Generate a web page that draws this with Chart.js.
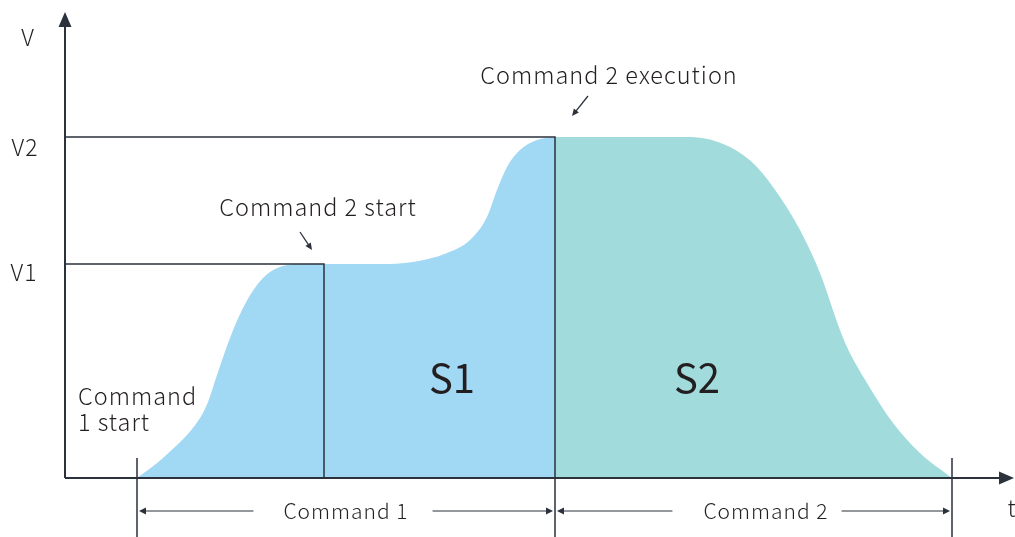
<!DOCTYPE html>
<html>
<head>
<meta charset="utf-8">
<script src="https://cdn.jsdelivr.net/npm/chart.js@4"></script>
<style>
  html, body { margin: 0; padding: 0; background: #fff; }
  #wrap { width: 1015px; height: 537px; position: relative; }
</style>
</head>
<body>
<div id="wrap"><canvas id="motionChart"></canvas></div>
<script>
// key times (arbitrary time units) and speed levels
const t1Start = 0.72;   // command 1 start
const t2Start = 2.59;   // command 2 start
const t2Exec = 4.90;    // command 2 execution
const t2End = 8.87;     // command 2 end
const V1 = 2.14;
const V2 = 3.41;

// speed profile while command 1 runs (S1)
const tS1 = [0.72, 0.98, 1.35, 1.43, 1.52, 1.65, 1.78, 1.92, 2.05, 2.22, 2.35, 2.59, 3.15, 3.48, 3.82, 4.05, 4.22, 4.32, 4.42, 4.55, 4.72, 4.90];
const vS1 = [0, 0.20, 0.60, 0.76, 1.03, 1.40, 1.70, 1.93, 2.06, 2.13, 2.14, 2.14, 2.14, 2.16, 2.25, 2.38, 2.61, 2.88, 3.11, 3.28, 3.38, 3.41];

// speed profile while command 2 runs (S2)
const tS2 = [4.90, 6.25, 6.65, 6.92, 7.15, 7.35, 7.55, 7.75, 7.82, 8.02, 8.28, 8.55, 8.87];
const vS2 = [3.41, 3.41, 3.31, 3.11, 2.81, 2.48, 2.05, 1.48, 1.31, 0.95, 0.55, 0.25, 0];

const ink = '#2b323c';
const textColor = '#231f20';
const font = '"Noto Sans CJK SC", "Noto Sans", sans-serif';

const toPoints = (xs, ys) => xs.map((x, i) => ({ x: x, y: ys[i] }));

// labels placed in data units
const labels = [
    { text: 'V', t: -0.37, v: 4.41, size: 23, align: 'center' },
    { text: 'V2', t: -0.40, v: 3.31, size: 23, align: 'center' },
    { text: 'V1', t: -0.41, v: 2.06, size: 23, align: 'center' },
    { text: 'Command 2 start', t: 2.53, v: 2.71, size: 23.5, align: 'center' },
    { text: 'Command 2 execution', t: 5.44, v: 4.03, size: 23.5, align: 'center' },
    { text: 'Command', t: 0.13, v: 0.82, size: 23.5, align: 'left' },
    { text: '1 start', t: 0.13, v: 0.56, size: 23.5, align: 'left' },
    { text: 'S1', t: 3.87, v: 1.00, size: 40, align: 'center' },
    { text: 'S2', t: 6.32, v: 1.00, size: 40, align: 'center' },
    { text: 't', t: 9.47, v: -0.30, size: 23, align: 'center' }
];

// dimension marks under the time axis (label centre and line gaps in time units)
const dimLevel = -0.33;
const dims = [
    { text: 'Command 1', from: t1Start, to: t2Exec, at: 2.81, gapL: 0.30, gapR: 0.24 },
    { text: 'Command 2', from: t2Exec, to: t2End, at: 7.01, gapL: 0.31, gapR: 0.13 }
];

function arrowHead(ctx, x, y, angle, len, half) {
    ctx.save();
    ctx.translate(x, y);
    ctx.rotate(angle);
    ctx.beginPath();
    ctx.moveTo(0, 0);
    ctx.lineTo(-len, -half);
    ctx.lineTo(-len, half);
    ctx.closePath();
    ctx.fill();
    ctx.restore();
}

const diagramPlugin = {
    id: 'diagram',
    afterDatasetsDraw(chart) {
        const { ctx, chartArea, scales } = chart;
        const X = v => scales.x.getPixelForValue(v);
        const Y = v => scales.y.getPixelForValue(v);
        ctx.save();
        ctx.strokeStyle = ink;
        ctx.fillStyle = ink;

        // axes
        ctx.lineWidth = 2;
        ctx.beginPath();
        ctx.moveTo(chartArea.left, chartArea.bottom);
        ctx.lineTo(chartArea.left, chartArea.top + 10);
        ctx.moveTo(chartArea.left, chartArea.bottom);
        ctx.lineTo(chartArea.right - 10, chartArea.bottom);
        ctx.stroke();
        arrowHead(ctx, chartArea.left, chartArea.top, -Math.PI / 2, 15, 6.5);
        arrowHead(ctx, chartArea.right + 1, chartArea.bottom, 0, 15, 6.5);

        // extension lines for the dimension marks
        ctx.lineWidth = 1.5;
        ctx.beginPath();
        [t1Start, t2End].forEach(t => {
            ctx.moveTo(X(t), Y(0.20));
            ctx.lineTo(X(t), Y(-0.60));
        });
        ctx.moveTo(X(t2Exec), Y(0));
        ctx.lineTo(X(t2Exec), Y(-0.60));
        ctx.stroke();

        // dimension lines with text
        ctx.lineWidth = 1.2;
        ctx.font = '300 21px ' + font;
        ctx.letterSpacing = '1px';
        dims.forEach(d => {
            const x0 = X(d.from) + 2, x1 = X(d.to) - 2;
            const y = Y(dimLevel);
            const mid = X(d.at);
            const w = ctx.measureText(d.text).width;
            ctx.beginPath();
            ctx.moveTo(x0 + 4, y);
            ctx.lineTo(mid - w / 2 - (X(d.gapL) - X(0)), y);
            ctx.moveTo(mid + w / 2 + (X(d.gapR) - X(0)), y);
            ctx.lineTo(x1 - 4, y);
            ctx.stroke();
            arrowHead(ctx, x0, y, Math.PI, 7, 3.5);
            arrowHead(ctx, x1, y, 0, 7, 3.5);
            ctx.fillStyle = textColor;
            ctx.textAlign = 'center';
            ctx.textBaseline = 'middle';
            ctx.fillText(d.text, mid, y);
            ctx.fillStyle = ink;
        });

        // pointer arrows
        ctx.lineWidth = 1.3;
        [[2.35, 2.46, 2.47, 2.28], [5.23, 3.82, 5.07, 3.62]].forEach(a => {
            const xa = X(a[0]), ya = Y(a[1]), xb = X(a[2]), yb = Y(a[3]);
            const ang = Math.atan2(yb - ya, xb - xa);
            ctx.beginPath();
            ctx.moveTo(xa, ya);
            ctx.lineTo(xb - 5 * Math.cos(ang), yb - 5 * Math.sin(ang));
            ctx.stroke();
            arrowHead(ctx, xb, yb, ang, 7, 3.2);
        });

        // text labels
        ctx.fillStyle = textColor;
        ctx.textBaseline = 'middle';
        labels.forEach(l => {
            ctx.font = (l.size > 30 ? '400 ' : '300 ') + l.size + 'px ' + font;
            ctx.letterSpacing = l.size > 30 ? '0px' : '1px';
            ctx.textAlign = l.align;
            ctx.fillText(l.text, X(l.t), Y(l.v));
        });
        ctx.restore();
    }
};

new Chart(document.getElementById('motionChart'), {
    type: 'line',
    data: {
        datasets: [
            {
                data: toPoints(tS1, vS1),
                backgroundColor: '#a1d8f3',
                borderWidth: 0,
                fill: 'origin',
                cubicInterpolationMode: 'monotone',
                pointRadius: 0,
                order: 3
            },
            {
                data: toPoints(tS2, vS2),
                backgroundColor: '#a1dbdc',
                borderWidth: 0,
                fill: 'origin',
                cubicInterpolationMode: 'monotone',
                pointRadius: 0,
                order: 2
            },
            {
                // V1 level until command 2 start
                data: toPoints([0, t2Start, t2Start], [V1, V1, 0]),
                borderColor: ink,
                borderWidth: 1.5,
                fill: false,
                pointRadius: 0,
                tension: 0,
                order: 1
            },
            {
                // V2 level until command 2 execution
                data: toPoints([0, t2Exec, t2Exec], [V2, V2, 0]),
                borderColor: ink,
                borderWidth: 1.5,
                fill: false,
                pointRadius: 0,
                tension: 0,
                order: 1
            }
        ]
    },
    options: {
        responsive: true,
        maintainAspectRatio: false,
        animation: false,
        layout: { padding: { left: 65, top: 12, right: 2, bottom: 59 } },
        plugins: { legend: { display: false }, tooltip: { enabled: false } },
        scales: {
            x: { type: 'linear', min: 0, max: 9.48, display: false },
            y: { type: 'linear', min: 0, max: 4.66, display: false }
        }
    },
    plugins: [diagramPlugin]
});
</script>
</body>
</html>
